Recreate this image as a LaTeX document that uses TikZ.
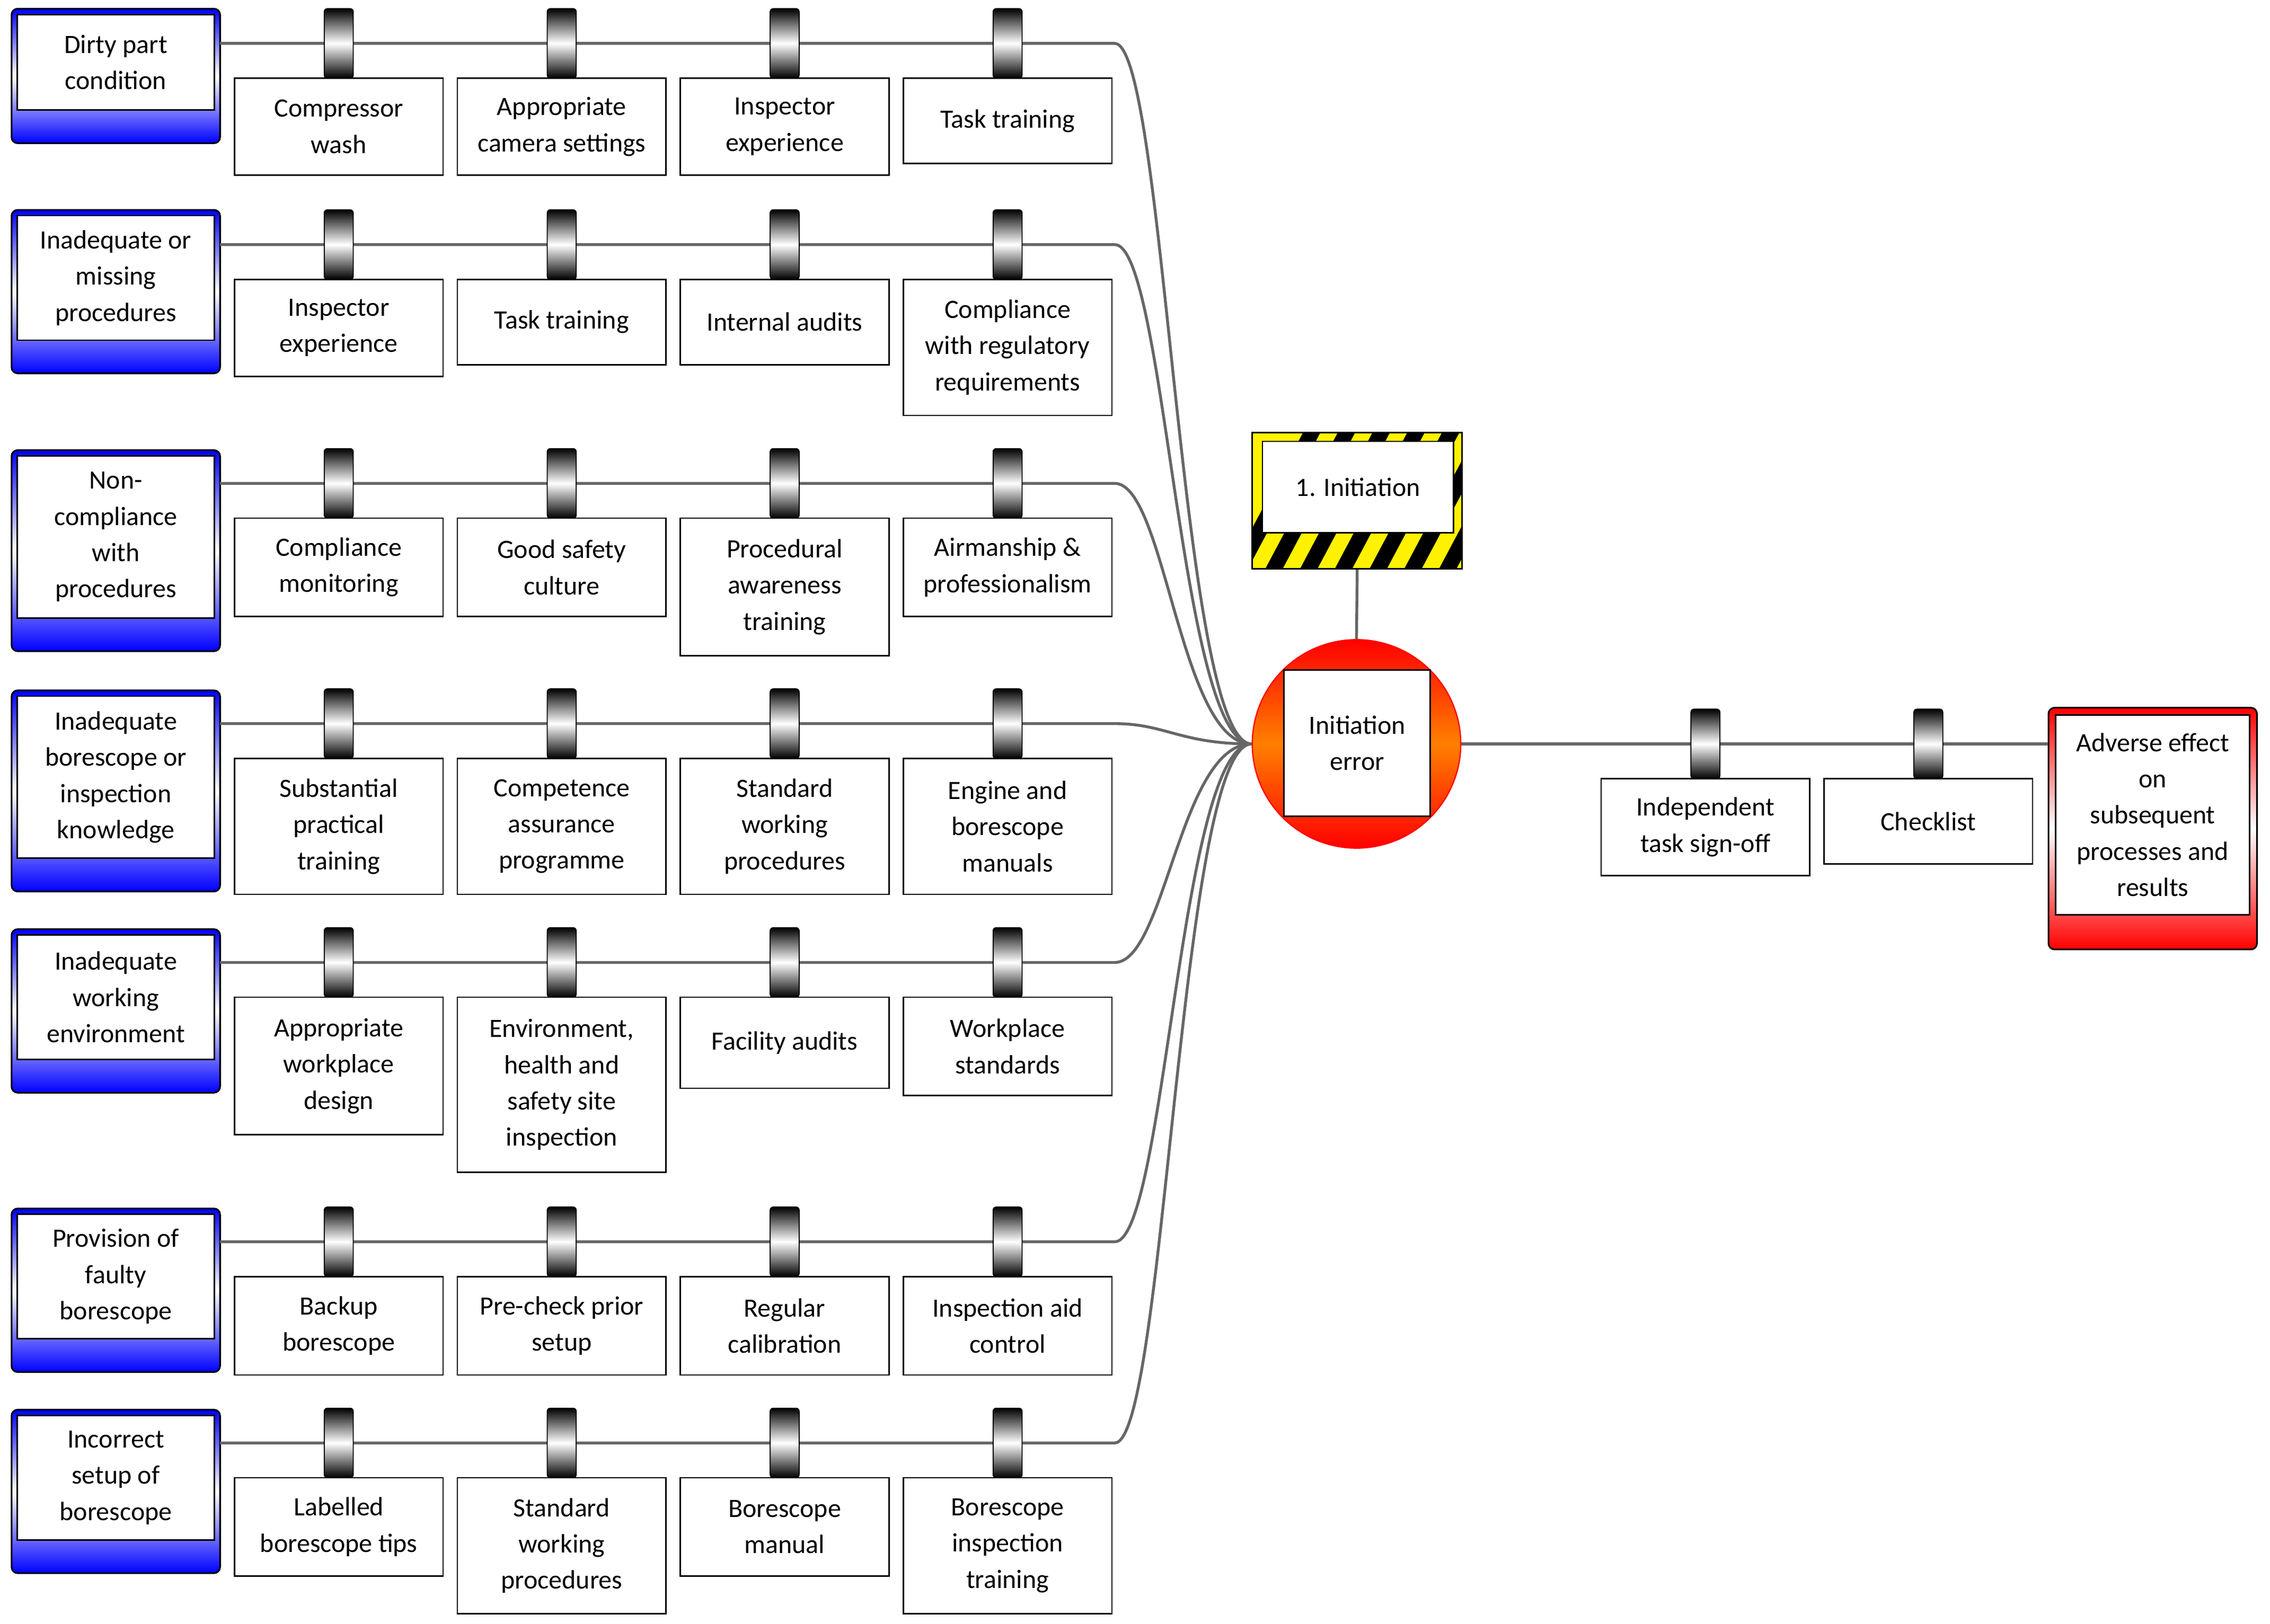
\documentclass[tikz,border=0pt]{standalone}
\usepackage{fontspec}
\setmainfont{Carlito}
\begin{document}
\begin{tikzpicture}[x=0.025cm,y=-0.025cm,
  bbox/.style={draw=black,line width=0.7pt,fill=white,minimum width=3.6cm,inner sep=1pt,align=center,font=\fontsize{13}{17.8}\selectfont},
  glyph/.style={draw=black,line width=0.5pt,rounded corners=1.5pt,minimum width=0.5cm,minimum height=1.2cm,inner sep=0pt,top color=black,bottom color=black,middle color=white},
  threat/.style={draw=black,line width=0.8pt,rounded corners=3pt,minimum width=3.6cm,inner sep=0pt,top color=blue,bottom color=blue,middle color=white},
  tin/.style={draw=black,line width=0.7pt,fill=white,minimum width=3.4cm,inner sep=1pt,align=center,font=\fontsize{13}{17.8}\selectfont},
  conn/.style={draw=black!60,line width=1.4pt}]
\useasboundingbox (0,0) rectangle (1568,1122);
\newcommand\bx[5]{%
  \pgfmathsetmacro\tp{#3+24}\pgfmathsetmacro\hh{(#4-\tp)*0.025}\pgfmathsetmacro\cy{(\tp+#4)/2}%
  \node[bbox,minimum height=\hh cm] (#1) at (#2,\cy) {#5};%
  \node[glyph] (#1g) at (#2,#3) {};}
\newcommand\thr[5]{% name, top, bottom, liney(unused), text
  \pgfmathsetmacro\hh{(#3-#2)*0.025}\pgfmathsetmacro\cy{(#2+#3)/2}%
  \pgfmathsetmacro\ih{(#3-23-#2-4)*0.025}\pgfmathsetmacro\iy{(#2+4+#3-23)/2}%
  \node[threat,minimum height=\hh cm] (#1) at (80,\cy) {};%
  \node[tin,minimum height=\ih cm] (#1in) at (80,\iy) {#5};}

% hazard
\begin{scope}
\clip (865,299) rectangle (1010,393);
\fill[yellow] (865,299) rectangle (1010,393);
\foreach \k in {0,...,12}{\fill[black] (850+\k*24,393) -- (862+\k*24,393) -- (912+\k*24,299) -- (900+\k*24,299) -- cycle;}
\end{scope}
\node[draw=black,line width=0.8pt,minimum width=3.625cm,minimum height=2.35cm,inner sep=0pt] (haz) at (937.5,346) {};
\node[draw=black,line width=0.7pt,fill=white,minimum width=3.3cm,minimum height=1.575cm,font=\fontsize{13}{17.8}\selectfont] (hazin) at (938,336.5) {1. Initiation};

% top event
\node[circle,draw=red,line width=0.6pt,minimum size=3.6cm,top color=red,bottom color=red,middle color=orange] (top) at (937,514) {};
\node[draw=black,line width=0.7pt,fill=white,minimum width=2.525cm,minimum height=2.525cm,align=center,inner sep=1pt,font=\fontsize{13}{17.8}\selectfont] (topin) at (937.5,513.5) {Initiation\\error};
\draw[conn] (haz.south) -- (top.north);

% consequence
\node[draw=black,line width=0.8pt,rounded corners=3pt,minimum width=3.6cm,minimum height=4.175cm,top color=red,bottom color=red,middle color=white,inner sep=0pt] (cons) at (1487,572.5) {};
\node[tin,minimum width=3.35cm,minimum height=3.45cm] (consin) at (1487,563) {Adverse effect\\on\\subsequent\\processes and\\results};
\draw[conn] (top.east) -- (cons.west |- top.east);
\bx{c1}{1178}{514}{605}{Independent\\task sign-off}
\bx{c2}{1332}{514}{597}{Checklist}

% threats
\thr{t1}{6}{99}{30}{Dirty part\\condition}
\thr{t2}{145}{258}{169}{Inadequate or\\missing\\procedures}
\thr{t3}{311}{450}{334}{Non-\\compliance\\with\\procedures}
\thr{t4}{477}{616}{500}{Inadequate\\borescope or\\inspection\\knowledge}
\thr{t5}{642}{755}{665}{Inadequate\\working\\environment}
\thr{t6}{835}{948}{858}{Provision of\\faulty\\borescope}
\thr{t7}{974}{1087}{997}{Incorrect\\setup of\\borescope}

\foreach \n/\y in {1/30,2/169,3/334,4/500,5/665,6/858,7/997}{
  \draw[conn] (152,\y) coordinate (s\n) -- (770,\y) .. controls (805,\y) and (815,514) .. (top.west);
}

\bx{a1}{234}{30}{121}{Compressor\\wash}
\bx{a2}{388}{30}{121}{Appropriate\\camera settings}
\bx{a3}{542}{30}{121}{Inspector\\experience}
\bx{a4}{696}{30}{113}{Task training}

\bx{b1}{234}{169}{260}{Inspector\\experience}
\bx{b2}{388}{169}{252}{Task training}
\bx{b3}{542}{169}{252}{Internal audits}
\bx{b4}{696}{169}{287}{Compliance\\with regulatory\\requirements}

\bx{d1}{234}{334}{426}{Compliance\\monitoring}
\bx{d2}{388}{334}{426}{Good safety\\culture}
\bx{d3}{542}{334}{453}{Procedural\\awareness\\training}
\bx{d4}{696}{334}{426}{Airmanship \&\\professionalism}

\bx{e1}{234}{500}{618}{Substantial\\practical\\training}
\bx{e2}{388}{500}{618}{Competence\\assurance\\programme}
\bx{e3}{542}{500}{618}{Standard\\working\\procedures}
\bx{e4}{696}{500}{618}{Engine and\\borescope\\manuals}

\bx{f1}{234}{665}{784}{Appropriate\\workplace\\design}
\bx{f2}{388}{665}{810}{Environment,\\health and\\safety site\\inspection}
\bx{f3}{542}{665}{752}{Facility audits}
\bx{f4}{696}{665}{757}{Workplace\\standards}

\bx{g1}{234}{858}{950}{Backup\\borescope}
\bx{g2}{388}{858}{950}{Pre-check prior\\setup}
\bx{g3}{542}{858}{950}{Regular\\calibration}
\bx{g4}{696}{858}{950}{Inspection aid\\control}

\bx{h1}{234}{997}{1089}{Labelled\\borescope tips}
\bx{h2}{388}{997}{1115}{Standard\\working\\procedures}
\bx{h3}{542}{997}{1089}{Borescope\\manual}
\bx{h4}{696}{997}{1115}{Borescope\\inspection\\training}
\end{tikzpicture}
\end{document}
